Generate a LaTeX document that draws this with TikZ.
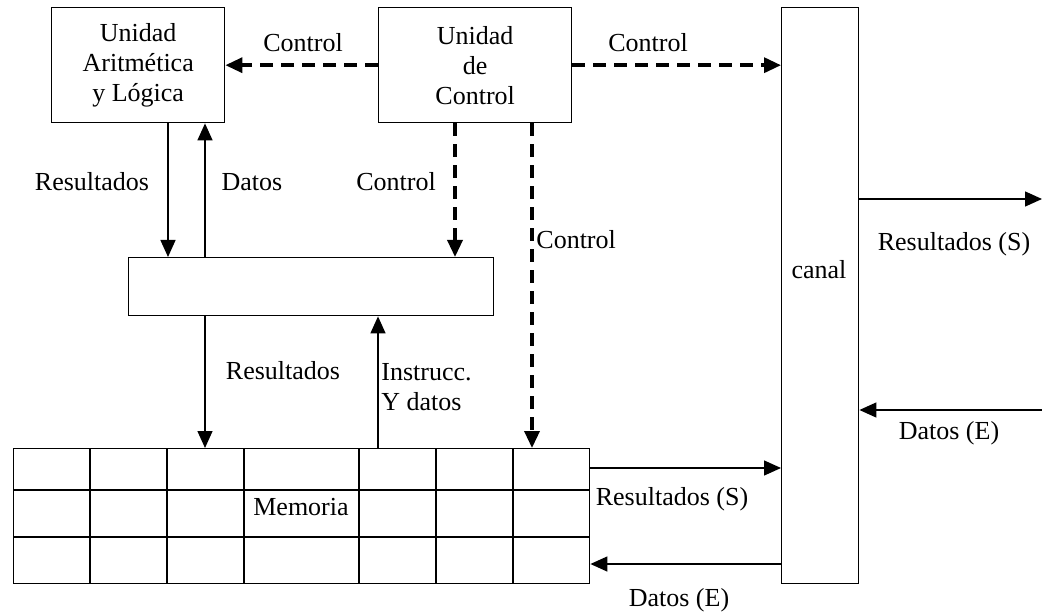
\documentclass[tikz,border=0pt]{standalone}
\usepackage{fontspec}
\setmainfont{Liberation Serif}
\usetikzlibrary{arrows.meta}

\begin{document}
\begin{tikzpicture}[x=0.5pt, y=-0.5pt,
  font=\fontsize{13}{15}\selectfont,
  box/.style={draw, line width=0.7pt, inner sep=0pt, anchor=north west, align=center},
  arr/.style={line width=0.7pt, -{Triangle[length=8.5pt,width=7.5pt]}},
  ctrl/.style={line width=1.7pt, dash pattern=on 6.5pt off 4pt, -{Triangle[length=8.5pt,width=7.5pt]}},
  lbl/.style={inner sep=0pt}]
\useasboundingbox (0,0) rectangle (1042,614);
% bloques
\node[box, minimum width=86.5pt, minimum height=57.5pt] (alu) at (51,7) {Unidad\\Aritmética\\y Lógica};
\node[box, minimum width=96.5pt, minimum height=57.5pt] (uc) at (378,7) {Unidad\\de\\Control};
\node[box, minimum width=182.5pt, minimum height=29pt] (reg) at (128,257) {};
\node[box, minimum width=38.5pt, minimum height=288pt] (canal) at (781,7) {};
\node[box, minimum width=288pt, minimum height=67.5pt] (mem) at (13,448) {};
% celdas de la memoria
\foreach \x in {90,167,244,359,436,513}
  \draw[line width=0.7pt] (\x,448) -- (\x,583);
\foreach \y in {490,537}
  \draw[line width=0.7pt] (13,\y) -- (589,\y);
% posiciones de las flechas
\coordinate (xa) at (168,0);
\coordinate (xb) at (205,0);
\coordinate (xc) at (455,0);
\coordinate (xd) at (532,0);
\coordinate (xe) at (378,0);
\coordinate (yd) at (0,468);
\coordinate (ye) at (0,564);
\coordinate (sal) at (1042,199);
\coordinate (ent) at (1042,410);
\draw[arr] (alu.south -| xa) -- (reg.north -| xa);
\draw[arr] (reg.north -| xb) -- (alu.south -| xb);
\draw[ctrl] (uc.west) -- (alu.east);
\draw[ctrl] (uc.east) -- (canal.west |- uc.east);
\draw[ctrl] (uc.south -| xc) -- (reg.north -| xc);
\draw[ctrl] (uc.south -| xd) -- (mem.north -| xd);
\draw[arr] (reg.south -| xb) -- (mem.north -| xb);
\draw[arr] (mem.north -| xe) -- (reg.south -| xe);
\draw[arr] (mem.east |- yd) -- (canal.west |- yd);
\draw[arr] (canal.west |- ye) -- (mem.east |- ye);
\draw[arr] (canal.east |- sal) -- (sal);
\draw[arr] (ent) -- (canal.east |- ent);
% textos
\node[lbl] (tc1) at (303,43) {Control};
\node[lbl] (tc2) at (648,43) {Control};
\node[lbl] (tr1) at (92,182) {Resultados};
\node[lbl] (td1) at (252,182) {Datos};
\node[lbl] (tc3) at (396,182) {Control};
\node[lbl, anchor=west] (tc4) at (536,240) {Control};
\node[lbl] (tr2) at (954,244) {Resultados (S)};
\node[lbl] (tcan) at (819,270) {canal};
\node[lbl] (td2) at (949,433) {Datos (E)};
\node[lbl] (tr3) at (283,371) {Resultados};
\node[lbl, anchor=west, align=left] (tins) at (381,387) {Instrucc.\\Y datos};
\node[lbl] (tmem) at (301,507) {Memoria};
\node[lbl] (tr4) at (672,499) {Resultados (S)};
\node[lbl] (td3) at (679,600) {Datos (E)};
\end{tikzpicture}
\end{document}
